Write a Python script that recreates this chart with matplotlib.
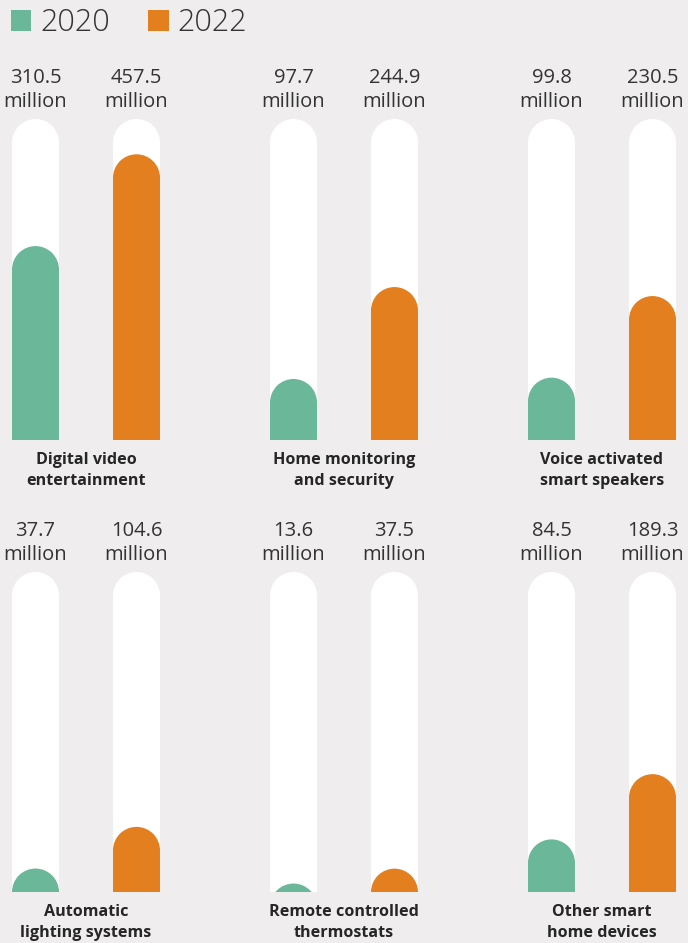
import matplotlib.pyplot as plt
from matplotlib.patches import Ellipse, Patch
from matplotlib.transforms import blended_transform_factory
import numpy as np

# smart home device users, millions
categories = ["Digital video\nentertainment", "Home monitoring\nand security",
              "Voice activated\nsmart speakers", "Automatic\nlighting systems",
              "Remote controlled\nthermostats", "Other smart\nhome devices"]
values_2020 = [310.5, 97.7, 99.8, 37.7, 13.6, 84.5]
values_2022 = [457.5, 244.9, 230.5, 104.6, 37.5, 189.3]
years = ["2020", "2022"]

GREEN = "#6ab799"
ORANGE = "#e47f1f"
BG = "#efedee"
TXT = "#333333"
TRACK_MAX = 514.0  # height of the white track, same units as values

plt.rcParams['font.family'] = ['Open Sans', 'DejaVu Sans']

W, H = 688, 943
fig = plt.figure(figsize=(W / 100, H / 100), dpi=100)
fig.patch.set_facecolor(BG)

col_green = [35.5, 293.5, 551.5]   # px centre of first bar in each column
row_base = [440, 892]              # px baseline of each row
row_h = [321, 320]                 # px height of the track
step = 101.0                       # px between the two bars
bar_px = 47.0
pad = 30.0


def rounded_bar(ax, x, top, w, r, color, z):
    # square bottom, round top
    ax.bar(x, top - r, width=w, bottom=0, color=color, zorder=z, linewidth=0)
    ax.add_patch(Ellipse((x, top - r), w, 2 * r, facecolor=color,
                         edgecolor="none", zorder=z))


for i, cat in enumerate(categories):
    row, col = divmod(i, 3)
    left = col_green[col] - pad
    width = step + 2 * pad
    base = row_base[row]
    hpx = row_h[row]
    ax = fig.add_axes([left / W, (H - base) / H, width / W, hpx / H])
    ax.set_xlim(-pad / step, 1 + pad / step)
    ax.set_ylim(0, TRACK_MAX)
    ax.axis("off")

    w = bar_px / step
    r = (bar_px / 2) * TRACK_MAX / hpx
    vals = [values_2020[i], values_2022[i]]
    tr = blended_transform_factory(ax.transData, ax.transAxes)
    for x, v, c in zip([0, 1], vals, [GREEN, ORANGE]):
        rounded_bar(ax, x, TRACK_MAX, w, r, "white", 1)
        rounded_bar(ax, x, v, w, r, c, 2)
        ax.annotate(f"{v:.1f}", xy=(x, 1), xycoords=tr, xytext=(0, 29.5),
                    textcoords="offset points", ha="center", va="center",
                    fontsize=14.5, color=TXT, annotation_clip=False)
        ax.annotate("million", xy=(x, 1), xycoords=tr, xytext=(0, 12.2),
                    textcoords="offset points", ha="center", va="center",
                    fontsize=14.5, color=TXT, annotation_clip=False)

    l1, l2 = cat.split("\n")
    ax.annotate(l1, xy=(0.5, 0), xycoords=tr, xytext=(0, -14.2),
                textcoords="offset points", ha="center", va="center",
                fontsize=11.6, fontweight="bold", color="#262626",
                annotation_clip=False)
    ax.annotate(l2, xy=(0.5, 0), xycoords=tr, xytext=(0, -29.2),
                textcoords="offset points", ha="center", va="center",
                fontsize=11.6, fontweight="bold", color="#262626",
                annotation_clip=False)

handles = [Patch(facecolor=GREEN, edgecolor="none"),
           Patch(facecolor=ORANGE, edgecolor="none")]
leg = fig.legend(handles, years, loc="upper left", bbox_to_anchor=(-0.0105, 1.012),
                 ncol=2, frameon=False, fontsize=22, handlelength=0.66,
                 handleheight=0.66, handletextpad=0.3, columnspacing=1.25,
                 labelcolor=TXT, borderaxespad=0.2)
for t in leg.get_texts():
    t.set_fontweight("light")

fig.savefig("out.png", dpi=100, facecolor=BG)
